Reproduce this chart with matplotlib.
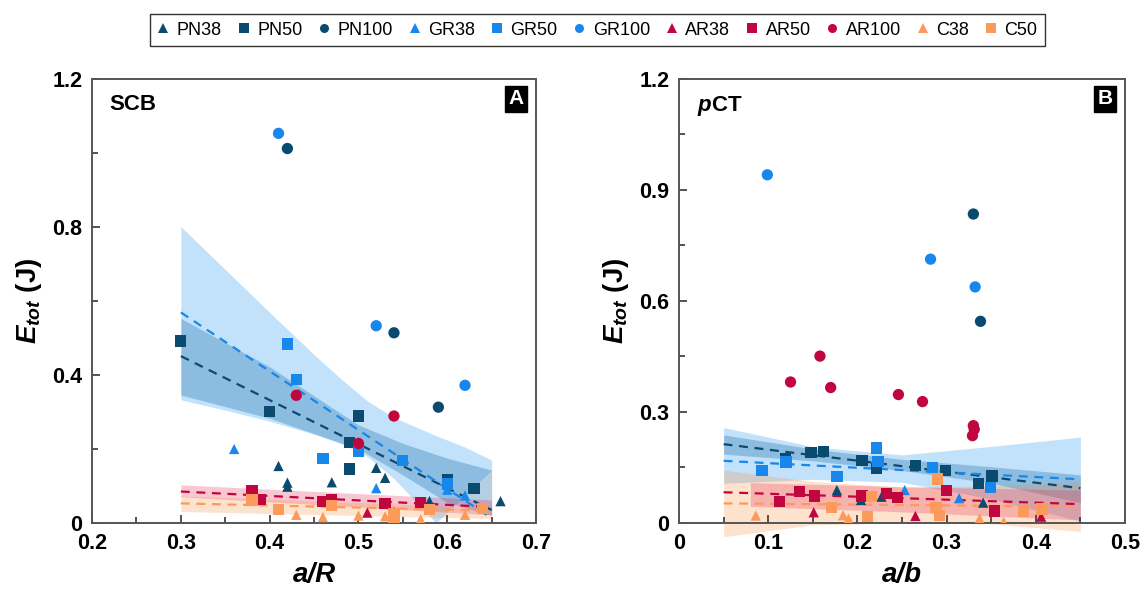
import numpy as np
import matplotlib
matplotlib.use('Agg')
import matplotlib.pyplot as plt
from matplotlib.lines import Line2D
from matplotlib.ticker import MultipleLocator, FuncFormatter

plt.rcParams['font.family'] = ['Liberation Sans', 'DejaVu Sans']
plt.rcParams['mathtext.fontset'] = 'custom'
plt.rcParams['mathtext.it'] = 'Liberation Sans:italic:bold'
plt.rcParams['mathtext.rm'] = 'Liberation Sans:bold'
plt.rcParams['mathtext.bf'] = 'Liberation Sans:bold'

# colours per material
PN_COL = '#0b4a6f'
GR_COL = '#1787ec'
AR_COL = '#c1053e'
C_COL = '#fb9a5b'

# ---- panel A : SCB, E_tot vs a/R ----
scb_pn38_x = [0.41, 0.42, 0.42, 0.47, 0.52, 0.53, 0.54, 0.58, 0.66]
scb_pn38_y = [0.154, 0.109, 0.098, 0.110, 0.149, 0.122, 0.030, 0.059, 0.059]
scb_pn50_x = [0.30, 0.40, 0.50, 0.49, 0.49, 0.60, 0.63]
scb_pn50_y = [0.492, 0.302, 0.289, 0.218, 0.146, 0.116, 0.093]
scb_pn100_x = [0.42, 0.54, 0.59]
scb_pn100_y = [1.012, 0.514, 0.313]
scb_gr38_x = [0.36, 0.52, 0.60, 0.62]
scb_gr38_y = [0.200, 0.094, 0.090, 0.074]
scb_gr50_x = [0.42, 0.43, 0.50, 0.46, 0.55, 0.60]
scb_gr50_y = [0.484, 0.388, 0.193, 0.175, 0.168, 0.105]
scb_gr100_x = [0.41, 0.52, 0.62]
scb_gr100_y = [1.053, 0.533, 0.372]
scb_ar38_x = [0.51]
scb_ar38_y = [0.028]
scb_ar50_x = [0.38, 0.39, 0.46, 0.47, 0.53, 0.57]
scb_ar50_y = [0.087, 0.064, 0.059, 0.062, 0.053, 0.055]
scb_ar100_x = [0.43, 0.54, 0.50]
scb_ar100_y = [0.345, 0.289, 0.215]
scb_c38_x = [0.43, 0.46, 0.50, 0.53, 0.54, 0.57, 0.62]
scb_c38_y = [0.022, 0.016, 0.020, 0.018, 0.008, 0.010, 0.022]
scb_c50_x = [0.38, 0.41, 0.47, 0.54, 0.54, 0.58, 0.64]
scb_c50_y = [0.062, 0.037, 0.048, 0.026, 0.016, 0.037, 0.040]

# fitted lines (ends) and confidence bands
scb_fit_x = [0.30, 0.65]
scb_fit_pn = [0.451, 0.035]
scb_fit_gr = [0.569, 0.013]
scb_fit_ar = [0.085, 0.043]
scb_fit_c = [0.053, 0.033]

scb_band_gr_x = [0.30, 0.35, 0.40, 0.45, 0.48, 0.51, 0.54, 0.5875, 0.62, 0.65]
scb_band_gr_up = [0.801, 0.685, 0.569, 0.455, 0.390, 0.330, 0.285, 0.236, 0.205, 0.170]
scb_band_gr_lo = [0.333, 0.305, 0.275, 0.240, 0.215, 0.180, 0.120, 0.000, 0.075, 0.143]
scb_band_pn_x = [0.30, 0.40, 0.50, 0.55, 0.60, 0.65]
scb_band_pn_up = [0.553, 0.422, 0.265, 0.215, 0.175, 0.143]
scb_band_pn_lo = [0.346, 0.283, 0.200, 0.130, 0.055, 0.020]
scb_band_ar_x = [0.30, 0.65]
scb_band_ar_up = [0.103, 0.062]
scb_band_ar_lo = [0.071, 0.022]
scb_band_c_x = [0.30, 0.65]
scb_band_c_up = [0.073, 0.042]
scb_band_c_lo = [0.031, 0.012]

# ---- panel B : pCT, E_tot vs a/b ----
pct_pn38_x = [0.177, 0.204, 0.227, 0.341]
pct_pn38_y = [0.089, 0.062, 0.071, 0.055]
pct_pn50_x = [0.119, 0.148, 0.162, 0.205, 0.221, 0.265, 0.299, 0.336, 0.351]
pct_pn50_y = [0.173, 0.190, 0.194, 0.168, 0.148, 0.156, 0.142, 0.107, 0.127]
pct_pn100_x = [0.330, 0.338]
pct_pn100_y = [0.835, 0.545]
pct_gr38_x = [0.253, 0.314]
pct_gr38_y = [0.089, 0.067]
pct_gr50_x = [0.093, 0.120, 0.177, 0.221, 0.223, 0.284, 0.349]
pct_gr50_y = [0.141, 0.165, 0.126, 0.203, 0.166, 0.149, 0.096]
pct_gr100_x = [0.099, 0.282, 0.332]
pct_gr100_y = [0.941, 0.713, 0.638]
pct_ar38_x = [0.151, 0.265, 0.406]
pct_ar38_y = [0.029, 0.019, 0.017]
pct_ar50_x = [0.113, 0.135, 0.152, 0.205, 0.233, 0.245, 0.300, 0.354]
pct_ar50_y = [0.058, 0.085, 0.073, 0.073, 0.079, 0.069, 0.088, 0.032]
pct_ar100_x = [0.125, 0.158, 0.170, 0.246, 0.273, 0.330, 0.331, 0.329]
pct_ar100_y = [0.381, 0.451, 0.366, 0.347, 0.328, 0.263, 0.253, 0.236]
pct_c38_x = [0.086, 0.184, 0.190, 0.337, 0.364]
pct_c38_y = [0.020, 0.021, 0.012, 0.012, 0.003]
pct_c50_x = [0.171, 0.211, 0.216, 0.288, 0.290, 0.292, 0.386, 0.407]
pct_c50_y = [0.042, 0.017, 0.071, 0.042, 0.119, 0.020, 0.032, 0.038]

pct_fit_x = [0.05, 0.45]
pct_fit_pn = [0.213, 0.094]
pct_fit_gr = [0.168, 0.118]
pct_fit_ar = [0.083, 0.051]
pct_fit_c = [0.053, 0.044]

pct_band_x = [0.05, 0.15, 0.25, 0.35, 0.45]
pct_band_gr_up = [0.258, 0.206, 0.184, 0.207, 0.232]
pct_band_gr_lo = [0.107, 0.118, 0.110, 0.065, 0.005]
pct_band_pn_up = [0.238, 0.200, 0.172, 0.152, 0.130]
pct_band_pn_lo = [0.186, 0.168, 0.142, 0.108, 0.055]
pct_band_c_up = [0.143, 0.112, 0.097, 0.100, 0.111]
pct_band_c_lo = [-0.037, -0.005, 0.000, -0.002, -0.023]
pct_band_ar_x = [0.08, 0.25, 0.45]
pct_band_ar_up = [0.109, 0.098, 0.089]
pct_band_ar_lo = [0.045, 0.030, 0.008]

labels = ['PN38', 'PN50', 'PN100', 'GR38', 'GR50', 'GR100',
          'AR38', 'AR50', 'AR100', 'C38', 'C50']
colors = [PN_COL] * 3 + [GR_COL] * 3 + [AR_COL] * 3 + [C_COL] * 2
markers = ['^', 's', 'o'] * 3 + ['^', 's']

scb_pts = [(scb_pn38_x, scb_pn38_y), (scb_pn50_x, scb_pn50_y), (scb_pn100_x, scb_pn100_y),
           (scb_gr38_x, scb_gr38_y), (scb_gr50_x, scb_gr50_y), (scb_gr100_x, scb_gr100_y),
           (scb_ar38_x, scb_ar38_y), (scb_ar50_x, scb_ar50_y), (scb_ar100_x, scb_ar100_y),
           (scb_c38_x, scb_c38_y), (scb_c50_x, scb_c50_y)]
pct_pts = [(pct_pn38_x, pct_pn38_y), (pct_pn50_x, pct_pn50_y), (pct_pn100_x, pct_pn100_y),
           (pct_gr38_x, pct_gr38_y), (pct_gr50_x, pct_gr50_y), (pct_gr100_x, pct_gr100_y),
           (pct_ar38_x, pct_ar38_y), (pct_ar50_x, pct_ar50_y), (pct_ar100_x, pct_ar100_y),
           (pct_c38_x, pct_c38_y), (pct_c50_x, pct_c50_y)]

band_style = {'GR': ('#2196f3', 0.27), 'PN': ('#1f6fa8', 0.33),
              'AR': ('#e8234f', 0.25), 'C': ('#fb8c3c', 0.25)}
line_col = {'GR': GR_COL, 'PN': PN_COL, 'AR': AR_COL, 'C': C_COL}

fig = plt.figure(figsize=(11.42, 5.91), dpi=100)
axA = fig.add_axes([0.0806, 0.1151, 0.3888, 0.7513])
axB = fig.add_axes([0.5946, 0.1151, 0.3905, 0.7513])


def fmt(v, _):
    return '0' if abs(v) < 1e-9 else '%.1f' % v


def style_axis(ax, xlim, xmaj, xmin, ylim, ymaj, ymin):
    ax.set_xlim(*xlim)
    ax.set_ylim(*ylim)
    ax.xaxis.set_major_locator(MultipleLocator(xmaj))
    ax.xaxis.set_minor_locator(MultipleLocator(xmin))
    ax.yaxis.set_major_locator(MultipleLocator(ymaj))
    ax.yaxis.set_minor_locator(MultipleLocator(ymin))
    ax.xaxis.set_major_formatter(FuncFormatter(fmt))
    ax.yaxis.set_major_formatter(FuncFormatter(fmt))
    ax.tick_params(which='both', direction='in', color='#444444', width=1.3,
                   labelsize=15.5, pad=7)
    ax.tick_params(which='major', length=6)
    ax.tick_params(which='minor', length=4.5)
    for lab in ax.get_xticklabels() + ax.get_yticklabels():
        lab.set_fontweight('bold')
    for sp in ax.spines.values():
        sp.set_color('#555555')
        sp.set_linewidth(1.4)


def draw_points(ax, pts):
    for (x, y), c, m in zip(pts, colors, markers):
        size = 55 if m == '^' else 66
        ax.scatter(x, y, s=size, marker=m, color=c, edgecolors='none', zorder=4)


# panel A
for key, bx, up, lo in [('GR', scb_band_gr_x, scb_band_gr_up, scb_band_gr_lo),
                        ('PN', scb_band_pn_x, scb_band_pn_up, scb_band_pn_lo),
                        ('AR', scb_band_ar_x, scb_band_ar_up, scb_band_ar_lo),
                        ('C', scb_band_c_x, scb_band_c_up, scb_band_c_lo)]:
    col, a = band_style[key]
    axA.fill_between(bx, lo, up, color=col, alpha=a, lw=0, zorder=1)
for key, fy in [('PN', scb_fit_pn), ('GR', scb_fit_gr), ('AR', scb_fit_ar), ('C', scb_fit_c)]:
    axA.plot(scb_fit_x, fy, ls=(0, (4, 3)), lw=1.6, color=line_col[key], zorder=3)
draw_points(axA, scb_pts)
style_axis(axA, (0.2, 0.7), 0.1, 0.05, (0, 1.2), 0.4, 0.2)
axA.set_xlabel('a/R', fontsize=20, fontweight='bold', fontstyle='italic', labelpad=6)
axA.set_ylabel(r'$E_{tot}$ (J)', fontsize=20, fontweight='bold', labelpad=6)
axA.text(0.04, 0.965, 'SCB', transform=axA.transAxes, fontsize=16,
         fontweight='bold', ha='left', va='top')
axA.text(0.955, 0.955, 'A', transform=axA.transAxes, fontsize=15, fontweight='bold',
         color='white', ha='center', va='center',
         bbox=dict(boxstyle='square,pad=0.18', fc='black', ec='black'))

# panel B
for key, bx, up, lo in [('GR', pct_band_x, pct_band_gr_up, pct_band_gr_lo),
                        ('PN', pct_band_x, pct_band_pn_up, pct_band_pn_lo),
                        ('C', pct_band_x, pct_band_c_up, pct_band_c_lo),
                        ('AR', pct_band_ar_x, pct_band_ar_up, pct_band_ar_lo)]:
    col, a = band_style[key]
    axB.fill_between(bx, lo, up, color=col, alpha=a, lw=0, zorder=1, clip_on=False)
for key, fy in [('PN', pct_fit_pn), ('GR', pct_fit_gr), ('AR', pct_fit_ar), ('C', pct_fit_c)]:
    axB.plot(pct_fit_x, fy, ls=(0, (4, 3)), lw=1.6, color=line_col[key], zorder=3)
draw_points(axB, pct_pts)
style_axis(axB, (0, 0.5), 0.1, 0.05, (0, 1.2), 0.3, 0.15)
axB.set_xlabel('a/b', fontsize=20, fontweight='bold', fontstyle='italic', labelpad=6)
axB.set_ylabel(r'$E_{tot}$ (J)', fontsize=20, fontweight='bold', labelpad=6)
axB.text(0.04, 0.965, r'$p$CT', transform=axB.transAxes, fontsize=16,
         fontweight='bold', ha='left', va='top')
axB.text(0.955, 0.955, 'B', transform=axB.transAxes, fontsize=15, fontweight='bold',
         color='white', ha='center', va='center',
         bbox=dict(boxstyle='square,pad=0.18', fc='black', ec='black'))

handles = [Line2D([], [], ls='none', marker=m, color=c, markersize=6.5 if m != '^' else 7,
                  markeredgewidth=0) for c, m in zip(colors, markers)]
leg = fig.legend(handles, labels, loc='center', bbox_to_anchor=(0.523, 0.949), ncol=11,
                 fontsize=13, frameon=True, fancybox=False, handlelength=0.7,
                 handletextpad=0.4, columnspacing=0.85, borderpad=0.4)
leg.get_frame().set_edgecolor('black')
leg.get_frame().set_linewidth(1.0)

fig.savefig('out.png', dpi=100)
